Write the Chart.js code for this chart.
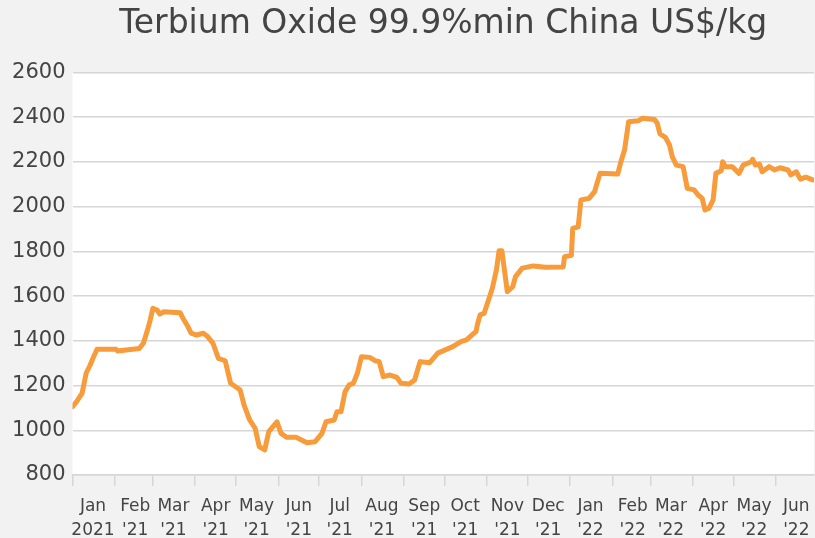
<!DOCTYPE html>
<html>
<head>
<meta charset="utf-8">
<script src="https://cdn.jsdelivr.net/npm/chart.js@4/dist/chart.umd.min.js"></script>
<style>
  html, body { margin: 0; padding: 0; background: #f2f2f2; }
  #wrap { width: 815px; height: 538px; }
</style>
</head>
<body>
<div id="wrap"><canvas id="graph1"></canvas></div>
<script>
// days since 1 Jan 2021
var days = [0, 3, 7, 10, 13, 15, 18, 32, 33, 49,
    52, 55, 57, 59, 62, 64, 67, 79, 81, 84,
    87, 91, 96, 99, 103, 107, 112, 116, 123, 126,
    130, 134, 137, 141, 144, 150, 153, 157, 164, 172,
    178, 183, 186, 192, 194, 197, 200, 203, 206, 209,
    212, 218, 222, 225, 228, 233, 238, 241, 247, 251,
    255, 262, 268, 279, 285, 289, 293, 296, 297, 299,
    302, 306, 308, 311, 313, 315, 319, 323, 325, 330,
    338, 347, 360, 361, 366, 367, 371, 373, 379, 383,
    387, 400, 402, 405, 408, 415, 418, 427, 429, 431,
    435, 438, 440, 443, 448, 451, 456, 459, 462, 464,
    467, 470, 472, 476, 477, 479, 484, 489, 492, 498,
    499, 501, 504, 506, 511, 515, 519, 525, 527, 531,
    534, 538, 543];

// US$/kg
var prices = [1105, 1128, 1165, 1255, 1292, 1322, 1362, 1362, 1355, 1366,
    1389, 1448, 1493, 1545, 1538, 1520, 1530, 1526, 1501, 1471,
    1434, 1426, 1434, 1420, 1390, 1322, 1311, 1210, 1180, 1110,
    1046, 1009, 927, 912, 994, 1038, 986, 969, 969, 944,
    949, 986, 1038, 1046, 1083, 1083, 1173, 1203, 1210, 1255,
    1329, 1326, 1311, 1307, 1240, 1247, 1237, 1210, 1207, 1225,
    1307, 1302, 1345, 1374, 1396, 1404, 1426, 1441, 1471, 1516,
    1523, 1597, 1635, 1717, 1803, 1803, 1620, 1642, 1687, 1725,
    1735, 1729, 1730, 1776, 1782, 1903, 1910, 2030, 2037, 2067,
    2149, 2146, 2194, 2253, 2380, 2384, 2395, 2390, 2373, 2325,
    2310, 2276, 2224, 2186, 2179, 2082, 2075, 2052, 2037, 1985,
    1993, 2030, 2149, 2161, 2201, 2179, 2179, 2149, 2186, 2201,
    2212, 2186, 2190, 2156, 2179, 2164, 2174, 2164, 2142, 2156,
    2123, 2132, 2120];

// month starts (year, month index) and their labels
var months = [[2021, 0], [2021, 1], [2021, 2], [2021, 3], [2021, 4], [2021, 5],
    [2021, 6], [2021, 7], [2021, 8], [2021, 9], [2021, 10], [2021, 11],
    [2022, 0], [2022, 1], [2022, 2], [2022, 3], [2022, 4], [2022, 5]];
var monthLabels = [['Jan', '2021'], ['Feb', "'21"], ['Mar', "'21"], ['Apr', "'21"],
    ['May', "'21"], ['Jun', "'21"], ['Jul', "'21"], ['Aug', "'21"], ['Sep', "'21"],
    ['Oct', "'21"], ['Nov', "'21"], ['Dec', "'21"], ['Jan', "'22"], ['Feb', "'22"],
    ['Mar', "'22"], ['Apr', "'22"], ['May', "'22"], ['Jun', "'22"]];

var yTicks = [800, 1000, 1200, 1400, 1600, 1800, 2000, 2200, 2400, 2600];

var start = Date.UTC(2021, 0, 1);
var monthDays = months.map(m => (Date.UTC(m[0], m[1], 1) - start) / 86400000);

var points = days.map((d, i) => ({ x: d, y: prices[i] }));

var grey = '#d6d6d6';
var textColor = '#444444';

var bgPlugin = {
    id: 'bg',
    beforeDraw: function (chart) {
        var c = chart.ctx, a = chart.chartArea;
        c.save();
        c.fillStyle = '#f2f2f2';
        c.fillRect(0, 0, chart.width, chart.height);
        c.fillStyle = '#ffffff';
        c.fillRect(a.left, a.top, a.right - a.left, a.bottom - a.top);
        c.restore();
    }
};

var ctx = document.getElementById('graph1').getContext('2d');
var graph1 = new Chart(ctx, {
    type: 'line',
    data: {
        datasets: [{
            label: 'Terbium Oxide',
            data: points,
            borderColor: '#F79B3B',
            borderWidth: 5,
            pointRadius: 0,
            tension: 0,
            borderJoinStyle: 'round',
            borderCapStyle: 'round',
            fill: false
        }]
    },
    options: {
        responsive: true,
        maintainAspectRatio: false,
        animation: false,
        layout: { padding: { left: 0, right: 1, top: 0, bottom: 0 } },
        plugins: {
            legend: { display: false },
            tooltip: { enabled: false },
            title: {
                display: true,
                text: 'Terbium Oxide 99.9%min China US$/kg',
                color: textColor,
                fullSize: false,
                font: { family: 'DejaVu Sans', size: 33, weight: 'normal', lineHeight: 1.2 },
                padding: { top: 5, bottom: 27.9 }
            }
        },
        scales: {
            x: {
                type: 'linear',
                min: 0,
                max: 544,
                afterBuildTicks: function (axis) {
                    axis.ticks = monthDays.map(v => ({ value: v }));
                },
                afterFit: function (axis) { axis.height = 63; },
                grid: {
                    drawOnChartArea: false,
                    drawTicks: true,
                    tickLength: 11,
                    color: grey,
                    lineWidth: 1.5
                },
                border: { color: grey, width: 1.5 },
                ticks: {
                    autoSkip: false,
                    maxRotation: 0,
                    labelOffset: 20.5,
                    padding: 9,
                    color: textColor,
                    font: { family: 'DejaVu Sans', size: 17, lineHeight: 1.4 },
                    callback: function (value, index) { return monthLabels[index]; }
                }
            },
            y: {
                min: 800,
                max: 2600,
                afterBuildTicks: function (axis) {
                    axis.ticks = yTicks.map(v => ({ value: v }));
                },
                afterFit: function (axis) { axis.width = 72.5; },
                grid: { color: grey, lineWidth: 1.5, drawTicks: false },
                border: { display: false },
                ticks: {
                    padding: 7,
                    color: textColor,
                    font: { family: 'DejaVu Sans', size: 21 },
                    callback: function (value) { return String(value); }
                }
            }
        }
    },
    plugins: [bgPlugin]
});
</script>
</body>
</html>
